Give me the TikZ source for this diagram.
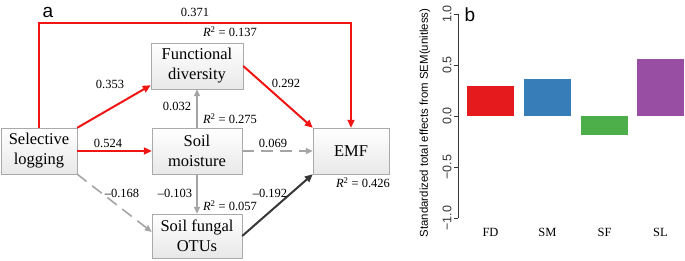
\documentclass[tikz,border=0pt]{standalone}
\usepackage{fontspec}
\setmainfont{Liberation Serif}
\newfontfamily\semsans{Liberation Sans}
\usetikzlibrary{positioning, arrows.meta}
\definecolor{semred}{RGB}{240, 20, 20}
\definecolor{semgray}{RGB}{165, 165, 165}
\definecolor{semdark}{RGB}{55, 55, 55}
\definecolor{semboxline}{RGB}{170, 170, 170}
\definecolor{barred}{RGB}{228, 26, 28}
\definecolor{barblue}{RGB}{55, 126, 184}
\definecolor{bargreen}{RGB}{77, 175, 74}
\definecolor{barpurple}{RGB}{152, 78, 163}

\begin{document}
\begin{tikzpicture}[x=1pt, y=-1pt,
    box/.style={draw=semboxline, top color=white, bottom color=gray!18, align=center,
                inner sep=0pt, minimum height=46pt, font=\fontsize{16.5}{20}\selectfont},
    lab/.style={font=\fontsize{12.5}{14}\selectfont, inner sep=1pt},
    redarr/.style={draw=semred, line width=2pt, -{Triangle[length=8pt, width=7pt]}},
    grayarr/.style={draw=semgray, line width=1.6pt, -{Triangle[length=7pt, width=6pt]}},
    dasharr/.style={grayarr, dash pattern=on 12pt off 7pt},
    darkarr/.style={draw=semdark, line width=2pt, -{Triangle[length=8pt, width=7pt]}}]
  \useasboundingbox (0,0) rectangle (685,261);

  % panel a: SEM paths
  \node[font=\semsans\fontsize{19}{20}\selectfont, inner sep=0pt] (pa) at (48,12) {a};
  \node[box, minimum width=76pt] (sl) at (39,151) {Selective\\logging};
  \node[box, minimum width=92pt] (fd) at (197,66) {Functional\\diversity};
  \node[box, minimum width=90pt] (sm) at (197,151) {Soil\\moisture};
  \node[box, minimum width=90pt, minimum height=44pt] (sf) at (197,236) {Soil fungal\\OTUs};
  \node[box, minimum width=76pt] (emf) at (351,151) {EMF};

  \coordinate (top) at (197,23);
  \draw[redarr] (sl.north) |- (top) -| (emf.north);
  \draw[redarr] (sl.north east) -- ([yshift=4pt]fd.south west);
  \draw[redarr] (sl.east) -- (sm.west);
  \draw[redarr] (fd.east) -- (emf.north west);
  \draw[grayarr] (sm.north) -- (fd.south);
  \draw[grayarr] (sm.south) -- (sf.north);
  \draw[dasharr] (sl.south east) -- ([yshift=4pt]sf.west);
  \draw[dasharr] (sm.east) -- (emf.west);
  \draw[darkarr] (sf.east) -- (emf.south west);

  \node[lab] (l371) at (195,12) {0.371};
  \node[lab] (r137) at (230,32) {\textit{R}\textsuperscript{2} = 0.137};
  \node[lab] (l353) at (110,84) {0.353};
  \node[lab] (l292) at (286,83) {0.292};
  \node[lab] (l032) at (177,106) {0.032};
  \node[lab] (r275) at (230,119) {\textit{R}\textsuperscript{2} = 0.275};
  \node[lab] (l524) at (108,143) {0.524};
  \node[lab] (l069) at (273,143) {0.069};
  \node[lab] (r426) at (363,183) {\textit{R}\textsuperscript{2} = 0.426};
  \node[lab] (l168) at (122,193) {--0.168};
  \node[lab] (l103) at (175,193) {--0.103};
  \node[lab] (r057) at (230,206) {\textit{R}\textsuperscript{2} = 0.057};
  \node[lab] (l192) at (270,193) {--0.192};

  % panel b: total effects
  \node[font=\semsans\fontsize{19}{20}\selectfont, inner sep=0pt] (pb) at (470,15) {b};
  \node[rotate=90, font=\semsans\fontsize{11.4}{12}\selectfont] (ytitle) at (425,123)
        {Standardized total effects from SEM(unitless)};
  \draw[semdark, line width=0.8pt] (458,14) -- (458,218);
  \foreach \v/\t in {14/1.0, 65/0.5, 116/0.0, 167/−0.5, 218/−1.0} {
    \draw[semdark, line width=0.8pt] (454,\v) -- (458,\v);
    \node[rotate=90, font=\semsans\fontsize{12.5}{13}\selectfont, text=semdark] (tick\v) at (447,\v) {\t};
  }
  \foreach \b/\val/\col/\x in {FD/0.29/barred/467, SM/0.365/barblue/524,
                              SF/-0.185/bargreen/581, SL/0.56/barpurple/637} {
    \fill[\col] (\x,116) rectangle ({\x+47},{116-102*\val});
    \node[font=\fontsize{12.5}{14}\selectfont] (bar\b) at ({\x+23.5},232) {\b};
  }
\end{tikzpicture}
\end{document}
